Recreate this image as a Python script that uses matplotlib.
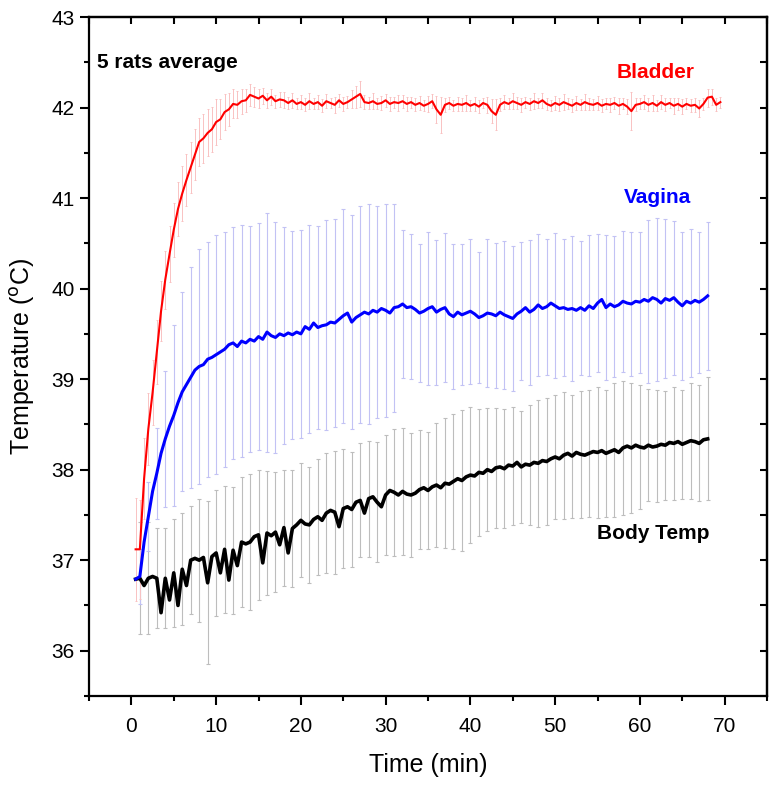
import numpy as np
import matplotlib
matplotlib.use("Agg")
import matplotlib.pyplot as plt

# bladder temperature, every 0.5 min starting at 0.5 min
bladder = [
    37.12, 37.12, 37.90, 38.45, 38.85, 39.30, 39.75, 40.10, 40.38, 40.65,
    40.88, 41.05, 41.20, 41.34, 41.48, 41.62, 41.66, 41.72, 41.76, 41.84,
    41.87, 41.95, 41.98, 42.04, 42.03, 42.07, 42.08, 42.14, 42.12, 42.10,
    42.13, 42.08, 42.12, 42.07, 42.09, 42.08, 42.05, 42.08, 42.04, 42.06,
    42.03, 42.07, 42.04, 42.06, 42.02, 42.07, 42.05, 42.03, 42.08, 42.04,
    42.06, 42.09, 42.12, 42.15, 42.06, 42.05, 42.07, 42.04, 42.05, 42.08,
    42.04, 42.06, 42.05, 42.07, 42.04, 42.06, 42.03, 42.05, 42.02, 42.04,
    42.07, 41.98, 41.92, 42.03, 42.05, 42.02, 42.04, 42.03, 42.05, 42.02,
    42.04, 42.01, 42.05, 42.03, 41.96, 41.92, 42.03, 42.06, 42.04, 42.07,
    42.05, 42.03, 42.06, 42.04, 42.07, 42.05, 42.08, 42.04, 42.02, 42.05,
    42.03, 42.06, 42.04, 42.02, 42.05, 42.03, 42.06, 42.04, 42.03, 42.05,
    42.02, 42.04, 42.03, 42.05, 42.02, 42.04, 42.01, 41.96, 42.03, 42.04,
    42.06, 42.03, 42.05, 42.02, 42.06, 42.03, 42.05, 42.02, 42.04, 42.01,
    42.04, 42.02, 42.03, 41.99, 42.04, 42.11, 42.12, 42.03, 42.06,
]
bladder_err = [
    0.57, 0.55, 0.45, 0.40, 0.36, 0.35, 0.33, 0.32, 0.31, 0.30,
    0.30, 0.30, 0.29, 0.28, 0.28, 0.27, 0.27, 0.26, 0.25, 0.25,
    0.22, 0.20, 0.18, 0.16, 0.15, 0.14, 0.13, 0.12, 0.11, 0.10,
    0.09, 0.08, 0.09, 0.07, 0.08, 0.09, 0.07, 0.08, 0.06, 0.08,
    0.07, 0.09, 0.06, 0.08, 0.07, 0.08, 0.06, 0.09, 0.07, 0.08,
    0.07, 0.10, 0.12, 0.14, 0.08, 0.07, 0.09, 0.06, 0.08, 0.07,
    0.08, 0.06, 0.09, 0.07, 0.08, 0.06, 0.07, 0.08, 0.06, 0.09,
    0.08, 0.15, 0.20, 0.08, 0.07, 0.06, 0.08, 0.07, 0.09, 0.06,
    0.08, 0.07, 0.06, 0.09, 0.13, 0.17, 0.07, 0.08, 0.06, 0.09,
    0.07, 0.08, 0.06, 0.07, 0.09, 0.06, 0.08, 0.07, 0.06, 0.08,
    0.07, 0.09, 0.06, 0.07, 0.08, 0.06, 0.09, 0.07, 0.06, 0.08,
    0.07, 0.06, 0.08, 0.07, 0.09, 0.06, 0.08, 0.21, 0.07, 0.06,
    0.08, 0.07, 0.09, 0.06, 0.08, 0.07, 0.06, 0.09, 0.07, 0.08,
    0.06, 0.07, 0.08, 0.09, 0.07, 0.10, 0.09, 0.07, 0.06,
]

# vagina and body temperature, every 0.5 min from 0.5 to 68 min
vagina = [
    36.79, 36.82, 37.20, 37.48, 37.76, 37.96, 38.18, 38.34, 38.48, 38.60,
    38.74, 38.86, 38.94, 39.02, 39.10, 39.14, 39.16, 39.22, 39.24, 39.27,
    39.30, 39.33, 39.38, 39.40, 39.36, 39.42, 39.40, 39.44, 39.42, 39.47,
    39.44, 39.52, 39.48, 39.46, 39.50, 39.48, 39.51, 39.49, 39.52, 39.50,
    39.58, 39.55, 39.62, 39.57, 39.59, 39.60, 39.63, 39.62, 39.66, 39.70,
    39.73, 39.63, 39.68, 39.71, 39.74, 39.72, 39.76, 39.74, 39.78, 39.76,
    39.73, 39.79, 39.80, 39.83, 39.79, 39.80, 39.77, 39.73, 39.75, 39.78,
    39.80, 39.74, 39.77, 39.79, 39.72, 39.69, 39.74, 39.71, 39.73, 39.75,
    39.72, 39.68, 39.70, 39.73, 39.72, 39.70, 39.74, 39.71, 39.69, 39.67,
    39.72, 39.75, 39.79, 39.74, 39.77, 39.82, 39.78, 39.80, 39.84, 39.81,
    39.78, 39.79, 39.77, 39.78, 39.76, 39.79, 39.76, 39.81, 39.78, 39.84,
    39.88, 39.79, 39.83, 39.80, 39.82, 39.86, 39.84, 39.83, 39.86, 39.85,
    39.88, 39.86, 39.90, 39.88, 39.84, 39.89, 39.87, 39.90, 39.85, 39.81,
    39.86, 39.84, 39.87, 39.85, 39.88, 39.92,
]
body = [
    36.79, 36.80, 36.72, 36.80, 36.82, 36.80, 36.42, 36.80, 36.56, 36.86,
    36.50, 36.90, 36.72, 37.00, 37.02, 37.00, 37.03, 36.75, 37.04, 37.08,
    36.86, 37.12, 36.78, 37.11, 36.94, 37.20, 37.18, 37.20, 37.26, 37.28,
    36.97, 37.30, 37.27, 37.31, 37.17, 37.36, 37.08, 37.35, 37.39, 37.44,
    37.40, 37.39, 37.45, 37.48, 37.44, 37.52, 37.55, 37.53, 37.37, 37.57,
    37.59, 37.56, 37.64, 37.66, 37.52, 37.68, 37.70, 37.64, 37.59, 37.72,
    37.77, 37.75, 37.72, 37.76, 37.73, 37.72, 37.74, 37.78, 37.80, 37.77,
    37.81, 37.83, 37.80, 37.85, 37.84, 37.87, 37.90, 37.88, 37.92, 37.94,
    37.93, 37.97, 37.96, 38.00, 37.98, 38.02, 38.03, 38.01, 38.05, 38.04,
    38.08, 38.03, 38.06, 38.05, 38.08, 38.07, 38.10, 38.09, 38.12, 38.14,
    38.12, 38.16, 38.18, 38.15, 38.19, 38.17, 38.16, 38.18, 38.20, 38.19,
    38.21, 38.18, 38.20, 38.22, 38.19, 38.24, 38.26, 38.24, 38.27, 38.25,
    38.24, 38.27, 38.25, 38.26, 38.28, 38.27, 38.30, 38.29, 38.31, 38.28,
    38.30, 38.32, 38.31, 38.29, 38.33, 38.34,
]

# error bars for vagina / body, one per minute (1, 2, ... 68 min)
vagina_err = [
    0.30, 0.38, 0.50, 0.75, 1.00, 1.10, 1.22, 1.30, 1.30, 1.32,
    1.30, 1.28, 1.28, 1.25, 1.25, 1.32, 1.28, 1.20, 1.15, 1.15,
    1.15, 1.12, 1.16, 1.15, 1.18, 1.18, 1.20, 1.22, 1.17, 1.18,
    1.15, 0.82, 0.80, 0.76, 0.85, 0.80, 0.82, 0.80, 0.78, 0.80,
    0.72, 0.82, 0.80, 0.82, 0.80, 0.76, 0.80, 0.78, 0.75, 0.80,
    0.76, 0.80, 0.74, 0.78, 0.76, 0.80, 0.78, 0.78, 0.80, 0.78,
    0.90, 0.90, 0.88, 0.85, 0.82, 0.82, 0.78, 0.82,
]
body_err = [
    0.62, 0.62, 0.55, 0.55, 0.60, 0.62, 0.60, 0.68, 0.90, 0.70,
    0.70, 0.70, 0.72, 0.75, 0.72, 0.68, 0.66, 0.64, 0.65, 0.63,
    0.64, 0.64, 0.66, 0.68, 0.66, 0.64, 0.63, 0.64, 0.66, 0.66,
    0.70, 0.70, 0.68, 0.66, 0.65, 0.68, 0.72, 0.75, 0.78, 0.75,
    0.70, 0.68, 0.66, 0.66, 0.65, 0.62, 0.66, 0.70, 0.70, 0.68,
    0.70, 0.68, 0.70, 0.70, 0.72, 0.70, 0.74, 0.74, 0.72, 0.68,
    0.62, 0.62, 0.60, 0.62, 0.60, 0.64, 0.64, 0.68,
]

t_bladder = 0.5 * np.arange(1, len(bladder) + 1)
t_other = 0.5 * np.arange(1, len(vagina) + 1)

plt.rcParams["font.family"] = ["Liberation Sans", "DejaVu Sans"]

fig = plt.figure(figsize=(7.76, 7.88), dpi=100)
ax = fig.add_axes([0.1147, 0.1168, 0.8737, 0.8616])

# error bars first, lines on top
ax.errorbar(t_other[1::2], np.array(body)[1::2], yerr=body_err, fmt="none",
            ecolor="#bdbdbd", elinewidth=0.8, capsize=1.5, capthick=0.8)
ax.errorbar(t_other[1::2], np.array(vagina)[1::2], yerr=vagina_err, fmt="none",
            ecolor="#c2c2f4", elinewidth=0.8, capsize=1.5, capthick=0.8)
ax.errorbar(t_bladder, bladder, yerr=bladder_err, fmt="none",
            ecolor="#f9c2c2", elinewidth=0.7, capsize=1.0, capthick=0.7)

ax.plot(t_other, body, color="black", lw=2.6)
ax.plot(t_other, vagina, color="#0000ff", lw=2.2)
ax.plot(t_bladder, bladder, color="#ff0000", lw=1.5)

ax.set_xlim(-5, 75)
ax.set_ylim(35.5, 43)
ax.set_xticks(np.arange(0, 71, 10))
ax.set_xticks(np.arange(-5, 76, 10), minor=True)
ax.set_yticks(np.arange(36, 43.1, 1))
ax.set_yticks(np.arange(35.5, 43, 1), minor=True)

for s in ax.spines.values():
    s.set_linewidth(1.6)
ax.tick_params(which="major", direction="out", length=6.5, width=1.5,
               labelsize=15, pad=4)
ax.tick_params(axis="x", which="major", pad=9)
ax.tick_params(which="minor", direction="out", length=3.5, width=1.5)

# inward ticks on top and right, all the same length
top = ax.secondary_xaxis("top")
top.set_xticks(np.arange(-5, 76, 5))
top.tick_params(direction="in", length=5, width=1.5, labeltop=False)
top.spines["top"].set_linewidth(1.6)
right = ax.secondary_yaxis("right")
right.set_yticks(np.arange(35.5, 43.1, 0.5))
right.tick_params(direction="in", length=5, width=1.5, labelright=False)
right.spines["right"].set_linewidth(1.6)

ax.set_xlabel("Time (min)", fontsize=18, labelpad=12)
ax.set_ylabel("Temperature ($^{\\rm o}$C)", fontsize=18, labelpad=10)

ax.text(-4.0, 42.5, "5 rats average", fontsize=15, fontweight="bold",
        ha="left", va="center")
ax.text(61.9, 42.39, "Bladder", fontsize=15, fontweight="bold",
        color="#ff0000", ha="center", va="center")
ax.text(62.1, 41.01, "Vagina", fontsize=15, fontweight="bold",
        color="#0000ff", ha="center", va="center")
ax.text(61.6, 37.29, "Body Temp", fontsize=15, fontweight="bold",
        color="black", ha="center", va="center")

fig.savefig("out.png", dpi=100)
